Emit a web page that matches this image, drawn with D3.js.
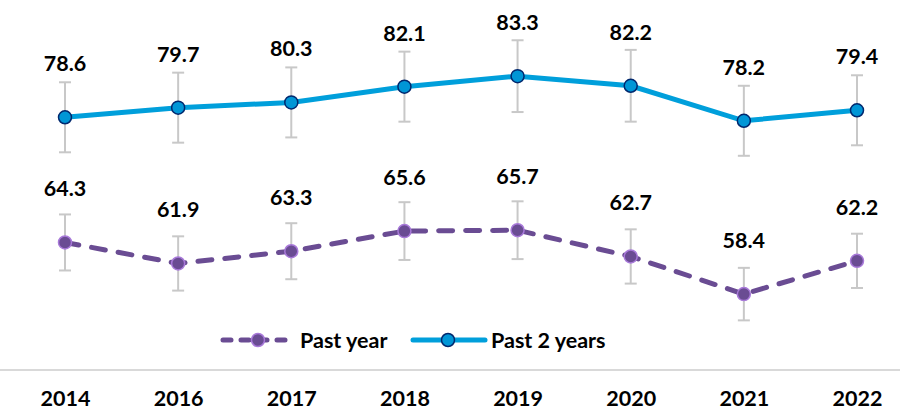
<!DOCTYPE html>
<html>
<head>
<meta charset="utf-8">
<script src="https://cdn.jsdelivr.net/npm/d3@7"></script>
<style>
  body { margin: 0; background: #fff; }
  text { font-family: Lato, "Open Sans", sans-serif; font-weight: bold; fill: #000; }
</style>
</head>
<body>
<svg></svg>
<script>
let width = 900;
let height = 411;

// data
let years = ['2014', '2016', '2017', '2018', '2019', '2020', '2021', '2022'];
let pastTwoYears = [78.6, 79.7, 80.3, 82.1, 83.3, 82.2, 78.2, 79.4];
let pastTwoYearsErr = [4.0, 4.0, 4.0, 4.0, 4.1, 4.1, 4.0, 4.0];
let pastYear = [64.3, 61.9, 63.3, 65.6, 65.7, 62.7, 58.4, 62.2];
let pastYearErr = [3.2, 3.1, 3.2, 3.3, 3.3, 3.1, 3.0, 3.1];

let svg = d3.select('svg')
            .attr('width', width)
            .attr('height', height);

let x = d3.scalePoint()
          .domain(years)
          .range([65, 857]);

let y = d3.scaleLinear()
          .domain([49.5, 92])
          .range([372, 0]);

// axis line + labels
svg.append('line')
   .attr('x1', 0).attr('x2', width)
   .attr('y1', y(49.5) - 2).attr('y2', y(49.5) - 2)
   .attr('stroke', '#d9d9d9')
   .attr('stroke-width', 2);

let xAxis = svg.append('g')
   .attr('transform', 'translate(0,' + (y(49.5) - 2) + ')')
   .call(d3.axisBottom(x).tickSize(0).tickPadding(0));
xAxis.select('.domain').remove();
xAxis.selectAll('text')
     .attr('dy', null)
     .attr('y', 36)
     .style('font-size', '21.5px')
     .style('font-family', 'Lato, sans-serif');

let series = [
  { name: 'Past year', values: pastYear, err: pastYearErr, line: '#6a4c93', fill: '#6a4c93', ring: '#a879d9', dash: '14,13' },
  { name: 'Past 2 years', values: pastTwoYears, err: pastTwoYearsErr, line: '#009fdb', fill: '#0096d6', ring: '#00286e', dash: null }
];

series.forEach(function(s) {
  let pts = years.map(function(yr, i) { return { year: yr, v: s.values[i], e: s.err[i] }; });
  let g = svg.append('g');

  // error bars
  let eb = g.selectAll('.err').data(pts).enter().append('g');
  eb.append('line')
    .attr('x1', d => x(d.year)).attr('x2', d => x(d.year))
    .attr('y1', d => y(d.v + d.e)).attr('y2', d => y(d.v - d.e))
    .attr('stroke', '#c8c8c8').attr('stroke-width', 2);
  [1, -1].forEach(function(sign) {
    eb.append('line')
      .attr('x1', d => x(d.year) - 6).attr('x2', d => x(d.year) + 6)
      .attr('y1', d => y(d.v + sign * d.e)).attr('y2', d => y(d.v + sign * d.e))
      .attr('stroke', '#c8c8c8').attr('stroke-width', 2);
  });

  g.append('path')
   .datum(pts)
   .attr('fill', 'none')
   .attr('stroke', s.line)
   .attr('stroke-width', 5)
   .attr('stroke-linecap', 'round')
   .attr('stroke-dasharray', s.dash)
   .attr('d', d3.line().x(d => x(d.year)).y(d => y(d.v)));

  g.selectAll('circle').data(pts).enter().append('circle')
   .attr('cx', d => x(d.year))
   .attr('cy', d => y(d.v))
   .attr('r', 6.5)
   .attr('fill', s.fill)
   .attr('stroke', s.ring)
   .attr('stroke-width', 1.5);

  g.selectAll('.lbl').data(pts).enter().append('text')
   .attr('x', d => x(d.year))
   .attr('y', d => y(d.v) - 46)
   .attr('text-anchor', 'middle')
   .style('font-size', '21.5px')
   .text(d => d.v.toFixed(1));
});

// legend
let legend = svg.append('g');
let legendX = [223, 413];
series.forEach(function(s, i) {
  let lg = legend.append('g').attr('transform', 'translate(' + legendX[i] + ',340)');
  lg.append('line')
    .attr('x1', 0).attr('x2', i === 0 ? 64 : 72)
    .attr('stroke', s.line).attr('stroke-width', 5)
    .attr('stroke-linecap', 'round')
    .attr('stroke-dasharray', i === 0 ? '8,10' : null);
  lg.append('circle')
    .attr('cx', 35).attr('r', 6.5)
    .attr('fill', s.fill).attr('stroke', s.ring).attr('stroke-width', 1.5);
  lg.append('text')
    .attr('x', i === 0 ? 77 : 78).attr('y', 7.5)
    .style('font-size', '21.5px')
    .text(s.name);
});
</script>
</body>
</html>
